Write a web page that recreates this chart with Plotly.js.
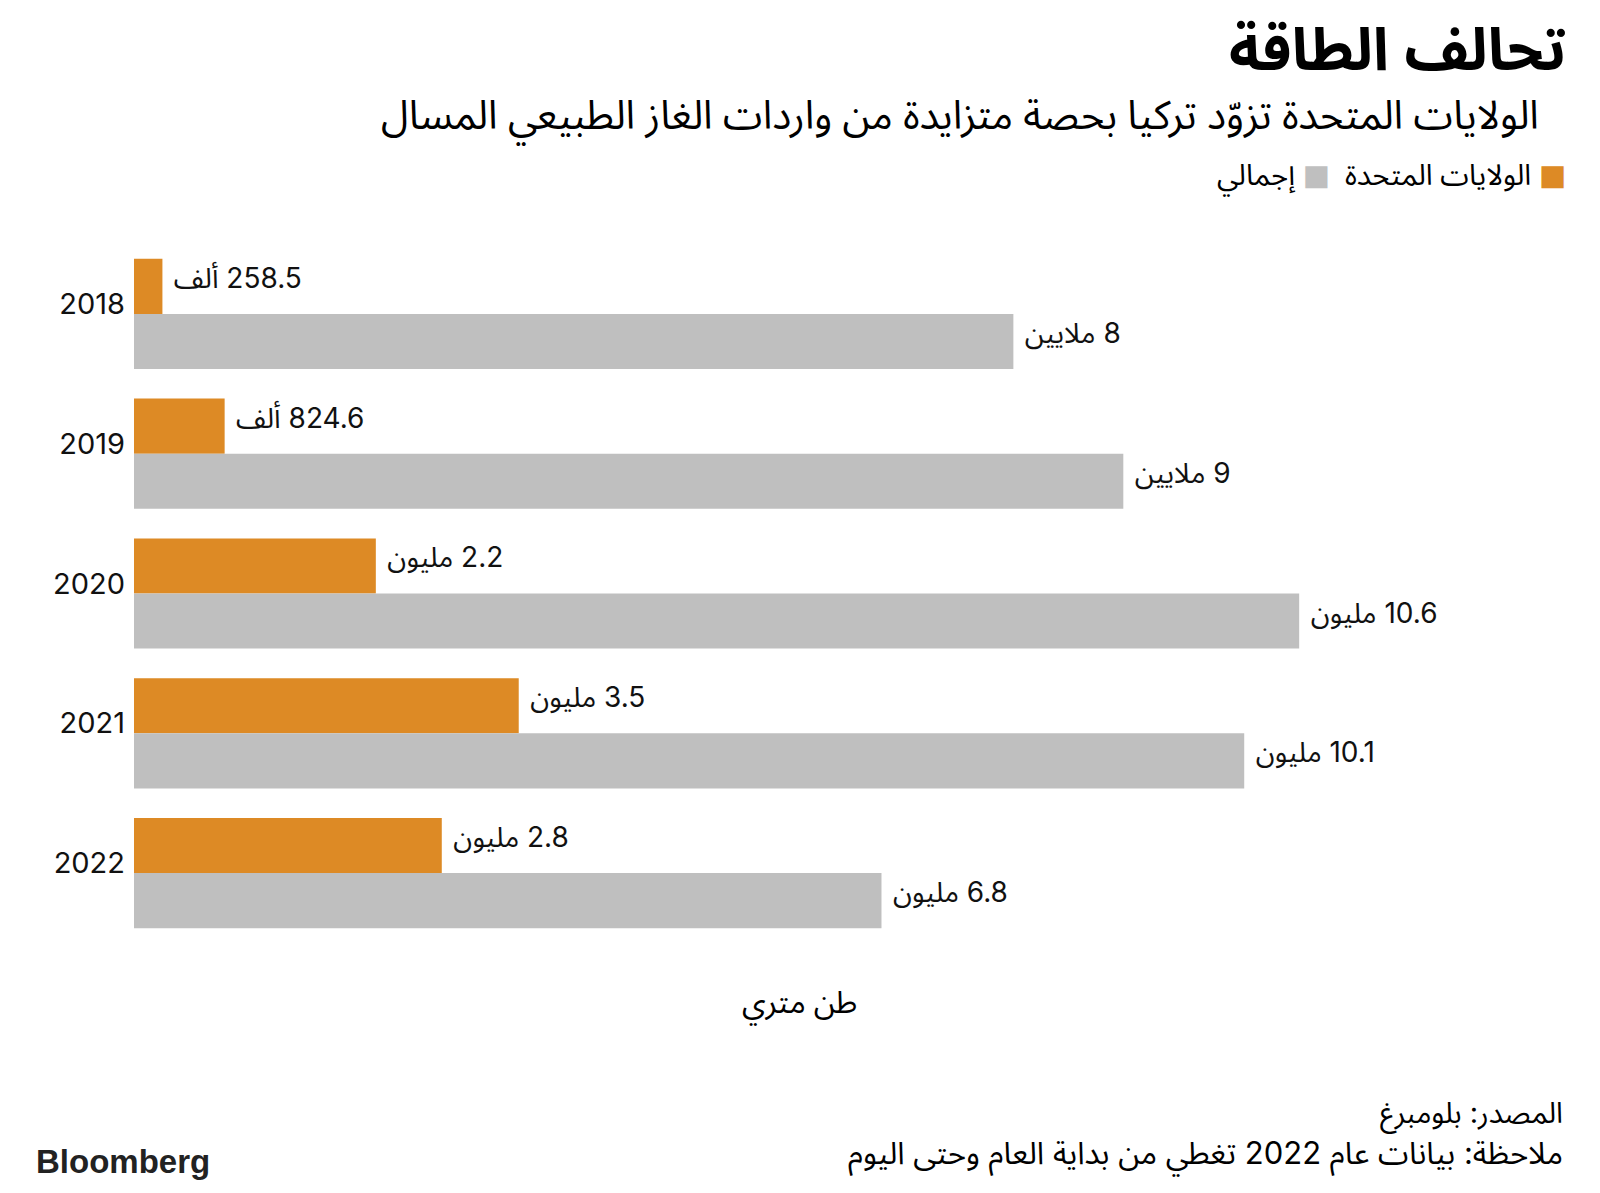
<!DOCTYPE html>
<html>
<head>
<meta charset="utf-8">
<script src="https://cdn.plot.ly/plotly-3.0.1.min.js"></script>
<style>
html,body{margin:0;padding:0;background:#fff;}
#chart{width:1600px;height:1193px;}
</style>
</head>
<body>
<div id="chart"></div>
<script>
// ---- data ----
const years = ['2018', '2019', '2020', '2021', '2022'];
const usValues = [0.2585, 0.8246, 2.2, 3.5, 2.8];          // million metric tons
const totalValues = [8, 9, 10.6, 10.1, 6.8];               // million metric tons
const usLabels = ['258.5 ألف', '824.6 ألف', '2.2 مليون', '3.5 مليون', '2.8 مليون'];
const totalLabels = ['8 ملايين', '9 ملايين', '10.6 مليون', '10.1 مليون', '6.8 مليون'];
const seriesNames = ['الولايات المتحدة', 'إجمالي'];

// ---- style ----
const ORANGE = '#DD8A25';
const GREY = '#BFBFBF';
const AR = "'Noto Sans Arabic', 'DejaVu Sans', sans-serif";
const MIX = "Inter, 'Noto Sans Arabic', 'DejaVu Sans', sans-serif";
const RLM = '\u200F';
const NBSP = '\u00A0';

const W = 1600, H = 1193;
const M = {l: 134, r: 37, t: 244, b: 250};
const plotW = W - M.l - M.r, plotH = H - M.t - M.b;
const px = p => (p - M.l) / plotW;
const py = p => (H - M.b - p) / plotH;

// number + Arabic unit, rendered right-to-left (unit on the left);
// an invisible lowered spacer lifts the label a little, as in the original
function fmtLabel(s) {
  return "<span style='font-size:2px;baseline-shift:-24px'>" + NBSP + '</span>' + NBSP + RLM + s;
}

const traces = [
  {
    type: 'bar', orientation: 'h', name: seriesNames[0],
    y: years, x: usValues,
    marker: {color: ORANGE},
    text: usLabels.map(fmtLabel),
    textposition: 'outside', cliponaxis: false, constraintext: 'none',
    textfont: {family: MIX, size: 28, color: '#111'},
    hoverinfo: 'skip'
  },
  {
    type: 'bar', orientation: 'h', name: seriesNames[1],
    y: years, x: totalValues,
    marker: {color: GREY},
    text: totalLabels.map(fmtLabel),
    textposition: 'outside', cliponaxis: false, constraintext: 'none',
    textfont: {family: MIX, size: 28, color: '#111'},
    hoverinfo: 'skip'
  }
];

const annotations = [
  {text: '<b>تحالف الطاقة</b>', x: px(1568), y: py(51), xanchor: 'right', yanchor: 'middle',
   font: {family: AR, size: 59, color: '#000'}},
  {text: 'الولايات المتحدة تزوّد تركيا بحصة متزايدة من واردات الغاز الطبيعي المسال',
   x: px(1541), y: py(117), xanchor: 'right', yanchor: 'middle',
   font: {family: AR, size: 40, color: '#000'}},
  {text: RLM + "<span style='color:" + ORANGE + "'>■</span> " + seriesNames[0] +
         "  <span style='color:" + GREY + "'>■</span> " + seriesNames[1],
   x: px(1568), y: py(176), xanchor: 'right', yanchor: 'middle',
   font: {family: AR, size: 29, color: '#000'}},
  {text: 'طن متري', x: px(799), y: py(1003), xanchor: 'center', yanchor: 'middle',
   font: {family: AR, size: 31, color: '#000'}},
  {text: 'المصدر: بلومبرغ', x: px(1565), y: py(1114), xanchor: 'right', yanchor: 'middle',
   font: {family: MIX, size: 29, color: '#000'}},
  {text: 'ملاحظة: بيانات عام 2022 تغطي من بداية العام وحتى اليوم', x: px(1565), y: py(1155),
   xanchor: 'right', yanchor: 'middle',
   font: {family: MIX, size: 31, color: '#000'}},
  {text: '<b>Bloomberg</b>', x: px(34), y: py(1161), xanchor: 'left', yanchor: 'middle',
   font: {family: "'Liberation Sans', Arial, sans-serif", size: 33, color: '#222'}}
].map(a => Object.assign({xref: 'paper', yref: 'paper', showarrow: false}, a));

const layout = {
  width: W, height: H,
  margin: M,
  paper_bgcolor: '#fff', plot_bgcolor: '#fff',
  barmode: 'group', bargap: 0.212, bargroupgap: 0,
  showlegend: false,
  xaxis: {range: [0, 13], showgrid: false, zeroline: false, showticklabels: false, ticks: '', showline: false, fixedrange: true},
  yaxis: {type: 'category', autorange: 'reversed', showgrid: false, zeroline: false, showline: false,
          ticks: '', ticklabelstandoff: 8, ticklabelshift: 10,
          tickfont: {family: MIX, size: 29, color: '#111'}, fixedrange: true},
  annotations: annotations
};

Plotly.newPlot('chart', traces, layout, {displayModeBar: false, staticPlot: true});
</script>
</body>
</html>
